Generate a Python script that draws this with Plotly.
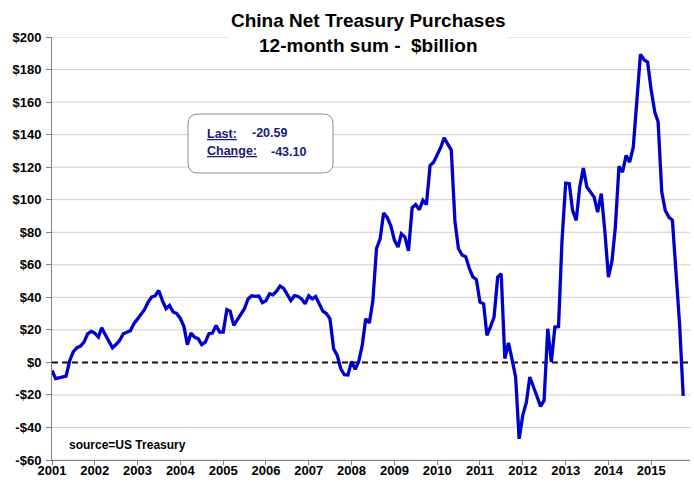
import pandas as pd
import plotly.graph_objects as go

# 12-month sum of China net Treasury purchases, $billion, monthly from Jan 2001
v2001 = [-5, -10, -9.5, -9, -8.5, 1, 6.5, 9, 10, 12.5, 17.5, 19]
v2002 = [18, 15.5, 21.3, 17, 13, 9, 11, 13.5, 17.6, 18.5, 19.5, 23.8]
v2003 = [26.8, 30, 32.4, 37, 40.1, 41, 44.2, 38, 33, 35, 31, 30]
v2004 = [27, 22, 10.9, 18, 15.5, 14.6, 10.9, 12.5, 17.6, 18, 22.7, 18.6]
v2005 = [18.6, 32.4, 31.5, 22.7, 26, 30, 33, 39, 41, 40.6, 40.8, 36.7]
v2006 = [38, 42.2, 41.5, 43.8, 46.9, 45.5, 42, 38, 41, 40.5, 39, 36]
v2007 = [41, 39, 40.5, 36, 31.5, 30, 26.8, 8.4, 4.3, -3.9, -7.6, -7.8]
v2008 = [0.6, -4.3, 0.2, 10.4, 26.8, 24.2, 38, 70, 76, 91.8, 89, 84]
v2009 = [75, 70.9, 79, 77, 68.5, 95, 97, 93.8, 99.6, 97, 121, 123]
v2010 = [127.2, 132.3, 138, 134, 130.5, 87, 70, 66, 65, 58, 52.5, 51]
v2011 = [37, 36, 16.6, 22, 27.8, 52.4, 54.5, 2.3, 12, 2, -9, -47]
v2012 = [-32.6, -24.4, -9, -15, -21, -27, -23.4, 20.7, 0.2, 21.7, 22, 75]
v2013 = [110.2, 109.8, 93.4, 87.3, 107.8, 119.4, 107.8, 104.7, 101.6, 92.4, 103.7, 81]
v2014 = [52.4, 62.7, 83.2, 120.5, 117, 127.2, 123.1, 132.3, 160, 189.3, 186, 184.6]
v2015 = [167.2, 153.8, 147.7, 104.7, 93.4, 89.3, 87.3, 54.5, 22.51, -20.59]

values = (v2001 + v2002 + v2003 + v2004 + v2005 + v2006 + v2007 + v2008 +
          v2009 + v2010 + v2011 + v2012 + v2013 + v2014 + v2015)
months = pd.date_range("2001-01-01", periods=len(values), freq="MS")

years = list(range(2001, 2016))
year_ticks = [f"{y}-01-01" for y in years]
year_labels = [f"<b>{y}</b>" for y in years]

y_ticks = list(range(-60, 201, 20))
y_labels = [f"<b>{'-' if t < 0 else ''}${abs(t)}</b>" for t in y_ticks]
grid_ticks = [t for t in y_ticks if t != 0]

x_range = ["2001-01-01", "2015-11-28"]

last_value = "-20.59"
change_value = "-43.10"

# layout geometry (pixels)
W, H = 694, 482
L, R, T, B = 52, 4, 37, 22
PW, PH = W - L - R, H - T - B


def px(x):
    return (x - L) / PW


def py(y):
    return (H - B - y) / PH


FONT = "Liberation Sans, Arial, sans-serif"
NAVY = "#1a1a7e"

fig = go.Figure()
# dashed zero reference line (under the data line)
fig.add_trace(go.Scatter(
    x=x_range, y=[0, 0], mode="lines",
    line=dict(color="#111111", width=2, dash="6px,4px"),
    hoverinfo="skip", showlegend=False,
))
fig.add_trace(go.Scatter(
    x=months, y=values, mode="lines",
    line=dict(color="#0000cc", width=3.3), hoverinfo="skip", showlegend=False,
))

shapes = []
# horizontal gridlines (all except zero)
for g in grid_ticks:
    shapes.append(dict(type="line", xref="paper", yref="y", x0=0, x1=1,
                       y0=g, y1=g, line=dict(color="#cccccc", width=1),
                       layer="below"))

# rounded box for Last / Change
bx0, bx1, by0, by1, r = px(188), px(333), py(114), py(173), 10
rx, ry = r / PW, r / PH
path = (f"M {bx0+rx},{by0} L {bx1-rx},{by0} Q {bx1},{by0} {bx1},{by0-ry} "
        f"L {bx1},{by1+ry} Q {bx1},{by1} {bx1-rx},{by1} "
        f"L {bx0+rx},{by1} Q {bx0},{by1} {bx0},{by1+ry} "
        f"L {bx0},{by0-ry} Q {bx0},{by0} {bx0+rx},{by0} Z")
shapes.append(dict(type="path", xref="paper", yref="paper", path=path,
                   line=dict(color="#8c8c8c", width=1), fillcolor="white",
                   layer="above"))

annotations = [
    dict(text="<b>China Net Treasury Purchases<br>12-month sum -  $billion</b>",
         xref="paper", yref="paper", x=px(368), y=py(33), xanchor="center",
         yanchor="middle", showarrow=False, bgcolor="white",
         font=dict(family=FONT, size=19, color="black")),
    dict(text="<b><u>Last:</u></b>", xref="paper", yref="paper", x=px(205),
         y=py(134), xanchor="left", yanchor="middle", showarrow=False,
         font=dict(family=FONT, size=12.5, color=NAVY)),
    dict(text=f"<b>{last_value}</b>", xref="paper", yref="paper", x=px(250),
         y=py(133), xanchor="left", yanchor="middle", showarrow=False,
         font=dict(family=FONT, size=12.5, color=NAVY)),
    dict(text="<b><u>Change:</u></b>", xref="paper", yref="paper", x=px(205),
         y=py(151), xanchor="left", yanchor="middle", showarrow=False,
         font=dict(family=FONT, size=12.5, color=NAVY)),
    dict(text=f"<b>{change_value}</b>", xref="paper", yref="paper", x=px(269),
         y=py(152), xanchor="left", yanchor="middle", showarrow=False,
         font=dict(family=FONT, size=12.5, color=NAVY)),
    dict(text="<b>source=US Treasury</b>", xref="paper", yref="paper", x=px(67),
         y=py(445), xanchor="left", yanchor="middle", showarrow=False,
         font=dict(family=FONT, size=12, color="black")),
]

fig.update_layout(
    width=W, height=H,
    margin=dict(l=L, r=R, t=T, b=B, pad=0, autoexpand=False),
    paper_bgcolor="white", plot_bgcolor="white",
    font=dict(family=FONT, size=13, color="black"),
    shapes=shapes, annotations=annotations,
    xaxis=dict(
        type="date", range=x_range,
        tickvals=year_ticks, ticktext=year_labels, automargin=False,
        showgrid=False, zeroline=False,
        showline=True, linecolor="#808080", linewidth=1,
        ticks="outside", ticklen=4, tickcolor="#808080",
        ticklabelstandoff=-6,
        tickfont=dict(family=FONT, size=13, color="black"),
    ),
    yaxis=dict(
        range=[-60, 200], tickvals=y_ticks, ticktext=y_labels, automargin=False,
        showgrid=False, zeroline=False,
        showline=True, linecolor="#808080", linewidth=1,
        ticks="outside", ticklen=5, tickcolor="#808080",
        ticklabelstandoff=2,
        tickfont=dict(family=FONT, size=13, color="black"),
    ),
)

fig.write_html("out.html")
